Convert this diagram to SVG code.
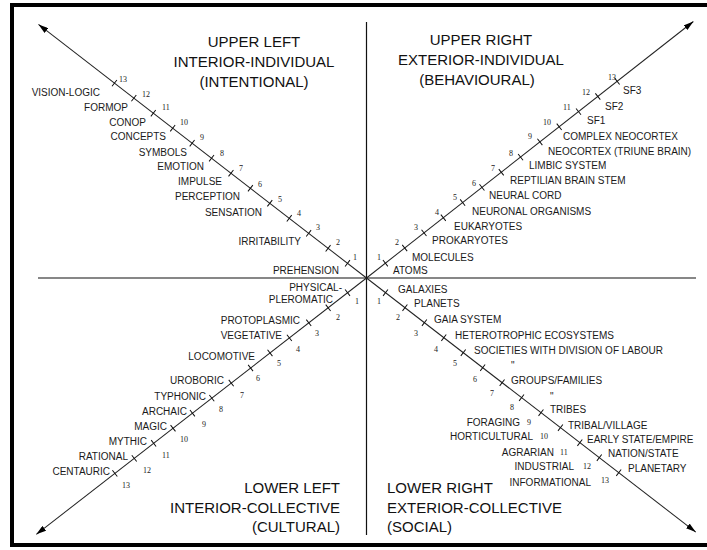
<svg xmlns="http://www.w3.org/2000/svg" width="707" height="550" viewBox="0 0 707 550">
<style>
.lbl{font-family:"Liberation Sans",Arial,sans-serif;font-size:10px;fill:#1a1a1a}
.num{font-family:"Liberation Serif","Times New Roman",serif;font-size:8px;fill:#1a1a1a}
.ttl{font-family:"Liberation Sans",Arial,sans-serif;font-size:15px;fill:#111}
.e{text-anchor:end}
.m{text-anchor:middle}
.ax{stroke:#111;stroke-width:1.2;fill:none}
.ray{stroke:#222;stroke-width:1;fill:none}
.tk{stroke:#111;stroke-width:1;fill:none}
</style>
<defs>
<marker id="arr" viewBox="0 0 10 6" refX="10" refY="3" markerWidth="10" markerHeight="6" markerUnits="userSpaceOnUse" orient="auto">
<path d="M0,0 L10,3 L0,6 Z" fill="#000"/>
</marker>
<path id="ticks" d="M24-4v8M48.55-4v8M73.1-4v8M97.65-4v8M122.2-4v8M146.75-4v8M171.3-4v8M195.85-4v8M220.4-4v8M244.95-4v8M269.5-4v8M294.05-4v8M318.6-4v8"/>
</defs>
<rect width="707" height="550" fill="#fff"/>
<path d="M712 5H12V545H712" fill="none" stroke="#000" stroke-width="4"/>

<g id="connectors">
<line class="ax" x1="38" y1="278" x2="696" y2="278"/>
<line class="ax" x1="366.5" y1="22" x2="366.5" y2="535"/>
<g transform="translate(366.5,278) rotate(-142.29)">
<line class="ray" x1="0" y1="0" x2="414.6" y2="0" marker-end="url(#arr)"/>
<use href="#ticks" class="tk"/>
</g>
<g transform="translate(366.5,278) rotate(-38.12)">
<line class="ray" x1="0" y1="0" x2="415.5" y2="0" marker-end="url(#arr)"/>
<use href="#ticks" class="tk"/>
</g>
<g transform="translate(366.5,278) rotate(142.17)">
<line class="ray" x1="0" y1="0" x2="418" y2="0" marker-end="url(#arr)"/>
<use href="#ticks" class="tk"/>
</g>
<g transform="translate(366.5,278) rotate(37.66)">
<line class="ray" x1="0" y1="0" x2="415.9" y2="0" marker-end="url(#arr)"/>
<use href="#ticks" class="tk"/>
</g>
</g>

<g id="upper-left">
<text class="ttl m" x="254" y="47">UPPER LEFT</text>
<text class="ttl m" x="254" y="67">INTERIOR-INDIVIDUAL</text>
<text class="ttl m" x="254" y="87">(INTENTIONAL)</text>
<text class="lbl e" x="100" y="96">VISION-LOGIC</text>
<text class="lbl e" x="128" y="111">FORMOP</text>
<text class="lbl e" x="146" y="126">CONOP</text>
<text class="lbl e" x="166" y="140">CONCEPTS</text>
<text class="lbl e" x="187" y="156">SYMBOLS</text>
<text class="lbl e" x="204" y="170">EMOTION</text>
<text class="lbl e" x="222" y="185">IMPULSE</text>
<text class="lbl e" x="240" y="200">PERCEPTION</text>
<text class="lbl e" x="262" y="216">SENSATION</text>
<text class="lbl e" x="301" y="245">IRRITABILITY</text>
<text class="lbl e" x="339" y="274">PREHENSION</text>
<text class="num" x="119" y="82">13</text>
<text class="num" x="142" y="97">12</text>
<text class="num" x="162" y="110">11</text>
<text class="num" x="180" y="125">10</text>
<text class="num" x="200" y="140">9</text>
<text class="num" x="220" y="156">8</text>
<text class="num" x="239" y="171">7</text>
<text class="num" x="258" y="187">6</text>
<text class="num" x="278" y="202">5</text>
<text class="num" x="297" y="216">4</text>
<text class="num" x="316" y="230">3</text>
<text class="num" x="336" y="245">2</text>
<text class="num" x="353" y="260">1</text>
</g>

<g id="upper-right">
<text class="ttl m" x="481" y="45">UPPER RIGHT</text>
<text class="ttl m" x="481" y="65">EXTERIOR-INDIVIDUAL</text>
<text class="ttl m" x="477" y="85">(BEHAVIOURAL)</text>
<text class="lbl" x="623" y="94">SF3</text>
<text class="lbl" x="605" y="110">SF2</text>
<text class="lbl" x="587" y="124">SF1</text>
<text class="lbl" x="563" y="140">COMPLEX NEOCORTEX</text>
<text class="lbl" x="548" y="155">NEOCORTEX (TRIUNE BRAIN)</text>
<text class="lbl" x="529" y="169">LIMBIC SYSTEM</text>
<text class="lbl" x="510" y="184">REPTILIAN BRAIN STEM</text>
<text class="lbl" x="489" y="199">NEURAL CORD</text>
<text class="lbl" x="472" y="215">NEURONAL ORGANISMS</text>
<text class="lbl" x="454" y="230">EUKARYOTES</text>
<text class="lbl" x="432" y="244">PROKARYOTES</text>
<text class="lbl" x="412" y="261">MOLECULES</text>
<text class="lbl" x="393" y="274">ATOMS</text>
<text class="num" x="608" y="80">13</text>
<text class="num" x="582" y="95">12</text>
<text class="num" x="563" y="110">11</text>
<text class="num" x="543" y="125">10</text>
<text class="num" x="528" y="139">9</text>
<text class="num" x="509" y="156">8</text>
<text class="num" x="491" y="171">7</text>
<text class="num" x="472" y="186">6</text>
<text class="num" x="453" y="200">5</text>
<text class="num" x="435" y="215">4</text>
<text class="num" x="414" y="230">3</text>
<text class="num" x="395" y="245">2</text>
<text class="num" x="377" y="260">1</text>
</g>

<g id="lower-left">
<text class="ttl e" x="340" y="493">LOWER LEFT</text>
<text class="ttl e" x="340" y="513">INTERIOR-COLLECTIVE</text>
<text class="ttl e" x="340" y="532">(CULTURAL)</text>
<text class="lbl e" x="342" y="291">PHYSICAL-</text>
<text class="lbl e" x="333" y="303">PLEROMATIC</text>
<text class="lbl e" x="300" y="324">PROTOPLASMIC</text>
<text class="lbl e" x="282" y="339">VEGETATIVE</text>
<text class="lbl e" x="255" y="360">LOCOMOTIVE</text>
<text class="lbl e" x="224" y="384">UROBORIC</text>
<text class="lbl e" x="206" y="400">TYPHONIC</text>
<text class="lbl e" x="187" y="415">ARCHAIC</text>
<text class="lbl e" x="167" y="430">MAGIC</text>
<text class="lbl e" x="147" y="445">MYTHIC</text>
<text class="lbl e" x="128" y="460">RATIONAL</text>
<text class="lbl e" x="110" y="475">CENTAURIC</text>
<text class="num" x="355" y="304">1</text>
<text class="num" x="336" y="320">2</text>
<text class="num" x="315" y="336">3</text>
<text class="num" x="296" y="352">4</text>
<text class="num" x="277" y="366">5</text>
<text class="num" x="256" y="381">6</text>
<text class="num" x="240" y="398">7</text>
<text class="num" x="219" y="412">8</text>
<text class="num" x="202" y="427">9</text>
<text class="num" x="180" y="442">10</text>
<text class="num" x="162" y="458">11</text>
<text class="num" x="143" y="473">12</text>
<text class="num" x="122" y="488">13</text>
</g>

<g id="lower-right">
<text class="ttl" x="387" y="493">LOWER RIGHT</text>
<text class="ttl" x="387" y="513">EXTERIOR-COLLECTIVE</text>
<text class="ttl" x="387" y="532">(SOCIAL)</text>
<text class="lbl" x="398" y="293">GALAXIES</text>
<text class="lbl" x="414" y="307">PLANETS</text>
<text class="lbl" x="434" y="323">GAIA SYSTEM</text>
<text class="lbl" x="455" y="339">HETEROTROPHIC ECOSYSTEMS</text>
<text class="lbl" x="474" y="354">SOCIETIES WITH DIVISION OF LABOUR</text>
<text class="lbl" x="511" y="369">&quot;</text>
<text class="lbl" x="511" y="384">GROUPS/FAMILIES</text>
<text class="lbl" x="550" y="400">&quot;</text>
<text class="lbl" x="550" y="413">TRIBES</text>
<text class="lbl e" x="520" y="426">FORAGING</text>
<text class="lbl" x="568" y="429">TRIBAL/VILLAGE</text>
<text class="lbl e" x="533" y="440">HORTICULTURAL</text>
<text class="lbl" x="587" y="443">EARLY STATE/EMPIRE</text>
<text class="lbl e" x="554" y="456">AGRARIAN</text>
<text class="lbl" x="608" y="457">NATION/STATE</text>
<text class="lbl e" x="574" y="470">INDUSTRIAL</text>
<text class="lbl" x="628" y="472">PLANETARY</text>
<text class="lbl e" x="591" y="486">INFORMATIONAL</text>
<text class="num" x="377" y="304">1</text>
<text class="num" x="396" y="320">2</text>
<text class="num" x="414" y="336">3</text>
<text class="num" x="434" y="352">4</text>
<text class="num" x="453" y="366">5</text>
<text class="num" x="473" y="382">6</text>
<text class="num" x="490" y="396">7</text>
<text class="num" x="510" y="410">8</text>
<text class="num" x="527" y="425">9</text>
<text class="num" x="540" y="439">10</text>
<text class="num" x="560" y="455">11</text>
<text class="num" x="583" y="469">12</text>
<text class="num" x="601" y="483">13</text>
</g>
</svg>
